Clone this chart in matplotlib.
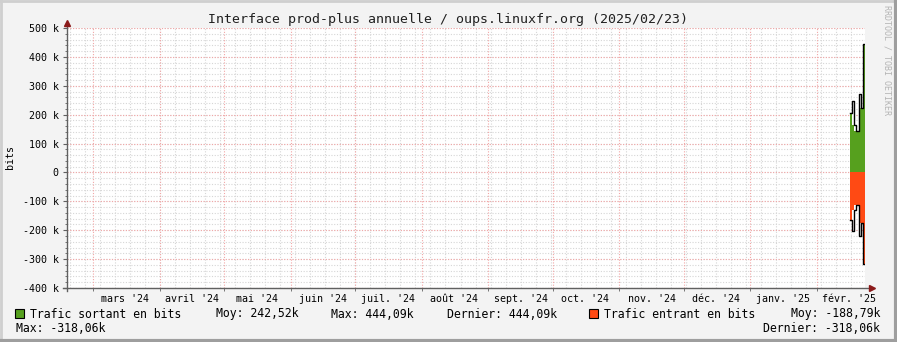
import numpy as np
import pandas as pd
import matplotlib
matplotlib.use('Agg')
import matplotlib.pyplot as plt
from matplotlib.patches import Rectangle
from matplotlib.lines import Line2D

# données (bits/s, moyennes journalières)
jours = pd.date_range('2025-02-16 09:00', periods=8, freq='D')   # bords des pas
sortant_ligne = [205e3, 249e3, 165e3, 143e3, 270e3, 221.5e3, 444.09e3]
sortant_aire = [205e3, 165e3, 143e3, 143e3, 221.5e3, 221.5e3, 444.09e3]
entrant_ligne = [-164e3, -202e3, -130e3, -111.5e3, -221e3, -175e3, -318.06e3]
entrant_aire = [-164e3, -130e3, -111.5e3, -111.5e3, -175e3, -175e3, -318.06e3]

mois = ["mars '24", "avril '24", "mai '24", "juin '24", "juil. '24", "août '24",
        "sept. '24", "oct. '24", "nov. '24", "déc. '24", "janv. '25", "févr. '25"]
debut_mois = pd.date_range('2024-03-01', periods=12, freq='MS')
y_ticks = np.arange(-400e3, 500e3 + 1, 100e3)

W, H = 897, 342
VERT = '#56a01e'
ORANGE = '#ff4a14'
FOND = '#f3f3f3'
plt.rcParams['font.family'] = ['DejaVu Sans Mono']


def px(x, y):
    return x / W, 1 - y / H


fig = plt.figure(figsize=(W / 100, H / 100), dpi=100, facecolor=FOND)
ax = fig.add_axes([67 / W, (H - 288) / H, (865 - 67) / W, (288 - 28) / H])
ax.set_facecolor('white')

x0 = pd.Timestamp('2024-02-17 18:15')
x1 = pd.Timestamp('2025-02-23 08:10')
ax.set_xlim(x0, x1)
ax.set_ylim(-400e3, 500e3)

# grille
semaines = pd.date_range('2024-02-19', x1, freq='7D')
for d in semaines:
    ax.axvline(d, color='#d6d6d6', lw=0.8, ls=(0, (1, 1.5)), zorder=0)
for v in np.arange(-400e3, 500e3 + 1, 20e3):
    ax.axhline(v, color='#d6d6d6', lw=0.8, ls=(0, (1, 1.5)), zorder=0)
for d in debut_mois:
    ax.axvline(d, color='#f2a6a6', lw=0.8, ls=(0, (1, 1.5)), zorder=0.5)
for v in y_ticks:
    ax.axhline(v, color='#f2a6a6', lw=0.8, ls=(0, (1, 1.5)), zorder=0.5)

# séries
def pas(vals):
    return np.append(vals, vals[-1])

ax.fill_between(jours, 0, pas(sortant_aire), step='post', color=VERT, lw=0, zorder=2)
ax.fill_between(jours, pas(sortant_aire), pas(sortant_ligne), step='post', color='white', lw=0, zorder=2)
ax.step(jours, pas(sortant_ligne), where='post', color='black', lw=1.0, zorder=3)
ax.fill_between(jours, 0, pas(entrant_aire), step='post', color=ORANGE, lw=0, zorder=2)
ax.fill_between(jours, pas(entrant_aire), pas(entrant_ligne), step='post', color='white', lw=0, zorder=2)
ax.step(jours, pas(entrant_ligne), where='post', color='black', lw=1.0, zorder=3)

# axes
for s in ax.spines.values():
    s.set_visible(False)
ax.add_line(Line2D([-0.005, 1.009], [0, 0], transform=ax.transAxes, color='#606060', lw=1, clip_on=False, zorder=4))
ax.add_line(Line2D([0, 0], [-0.012, 1.02], transform=ax.transAxes, color='#606060', lw=1, clip_on=False, zorder=4))
ax.plot([1.009], [0], marker='>', color='#8b1a1a', ms=4, transform=ax.transAxes, clip_on=False, zorder=5)
ax.plot([0], [1.02], marker='^', color='#8b1a1a', ms=4, transform=ax.transAxes, clip_on=False, zorder=5)

ax.set_yticks(y_ticks)
ax.set_yticklabels(['0' if v == 0 else '%d k' % (v / 1000) for v in y_ticks])
ax.set_yticks(np.arange(-400e3, 500e3 + 1, 20e3), minor=True)
ax.tick_params(axis='y', which='major', length=3, width=0.8, color='#606060', pad=3, labelsize=7.2)
ax.tick_params(axis='y', which='minor', length=1.5, width=0.6, color='#606060')

ax.set_xticks(debut_mois)
ax.set_xticklabels([''] * len(debut_mois))
ax.set_xticks(debut_mois + pd.Timedelta(days=15), minor=True)
ax.set_xticklabels(mois, minor=True)
ax.tick_params(axis='x', which='major', length=2, width=0.6, color='#606060')
ax.tick_params(axis='x', which='minor', length=0, pad=4, labelsize=7.2)

# textes
fig.text(*px(448, 19), "Interface prod-plus annuelle / oups.linuxfr.org (2025/02/23)",
         ha='center', va='center', fontsize=9.5, color='#202020')
fig.text(*px(10, 157), 'bits', rotation=90, ha='center', va='center', fontsize=7.2)
fig.text(*px(887, 5), 'RRDTOOL / TOBI OETIKER', rotation=270, ha='center', va='top',
         fontsize=6, color='#b4b4b4')

fs = 8.3
fig.add_artist(Rectangle(px(15, 318), 9 / W, 9 / H, transform=fig.transFigure,
                         facecolor=VERT, edgecolor='black', lw=0.8))
fig.text(*px(30, 314), 'Trafic sortant en bits', va='center', fontsize=fs)
fig.text(*px(216, 314), 'Moy: 242,52k', va='center', fontsize=fs)
fig.text(*px(331, 314), 'Max: 444,09k', va='center', fontsize=fs)
fig.text(*px(447, 314), 'Dernier: 444,09k', va='center', fontsize=fs)
fig.add_artist(Rectangle(px(589, 318), 9 / W, 9 / H, transform=fig.transFigure,
                         facecolor=ORANGE, edgecolor='black', lw=0.8))
fig.text(*px(604, 314), 'Trafic entrant en bits', va='center', fontsize=fs)
fig.text(*px(880, 314), 'Moy: -188,79k', va='center', ha='right', fontsize=fs)
fig.text(*px(16, 328), 'Max: -318,06k', va='center', fontsize=fs)
fig.text(*px(880, 328), 'Dernier: -318,06k', va='center', ha='right', fontsize=fs)

# cadre
fig.add_artist(Line2D([0, 1], [1 - 1 / H, 1 - 1 / H], transform=fig.transFigure, color='#cfcfcf', lw=2))
fig.add_artist(Line2D([1 / W, 1 / W], [0, 1], transform=fig.transFigure, color='#cfcfcf', lw=2))
fig.add_artist(Line2D([0, 1], [1.5 / H, 1.5 / H], transform=fig.transFigure, color='#9e9e9e', lw=3))
fig.add_artist(Line2D([1 - 1.5 / W, 1 - 1.5 / W], [0, 1], transform=fig.transFigure, color='#9e9e9e', lw=3))

fig.savefig('out.png', dpi=100, facecolor=FOND)
